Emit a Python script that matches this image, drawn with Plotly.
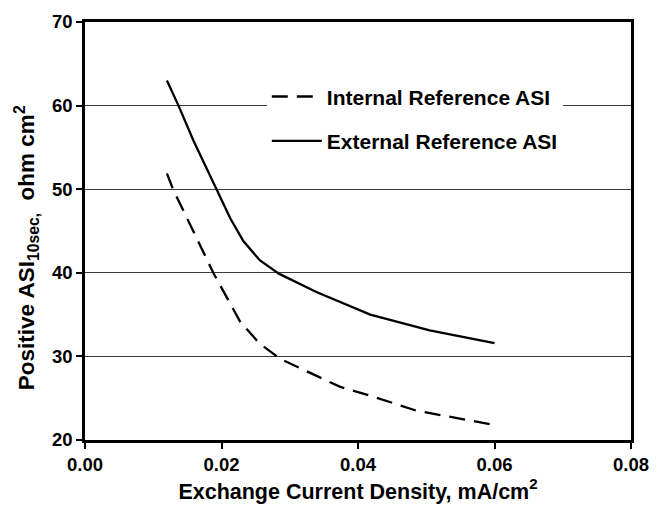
import plotly.graph_objects as go

# Data
ext_x = [0.0120, 0.0137, 0.0159, 0.0193, 0.0213, 0.0232, 0.0256, 0.0284, 0.0339, 0.0418, 0.0505, 0.0600]
ext_y = [63.0, 60.0, 55.8, 50.0, 46.5, 43.8, 41.5, 39.9, 37.7, 35.0, 33.1, 31.6]

int_x = [0.0120, 0.0129, 0.0155, 0.0188, 0.0227, 0.0255, 0.0286, 0.0374, 0.0418, 0.0486, 0.0600]
int_y = [51.9, 50.0, 45.6, 40.0, 34.2, 31.6, 29.7, 26.35, 25.3, 23.5, 21.8]

x_ticks = [0.00, 0.02, 0.04, 0.06, 0.08]
x_ticklabels = ["0.00", "0.02", "0.04", "0.06", "0.08"]
y_ticks = [20, 30, 40, 50, 60, 70]

FONT = "Liberation Sans, Arial, sans-serif"

fig = go.Figure()
fig.add_trace(go.Scatter(
    x=int_x, y=int_y, mode="lines", name="Internal Reference ASI",
    legendgroup="a",
    line=dict(color="black", width=2.3, dash="16px,9px"),
))
fig.add_trace(go.Scatter(
    x=ext_x, y=ext_y, mode="lines", name="External Reference ASI",
    legendgroup="b",
    line=dict(color="black", width=2.3),
))

axis_common = dict(
    showline=True, linecolor="black", linewidth=2.5, mirror=True,
    ticks="outside", ticklen=6, tickwidth=2, tickcolor="black",
    tickfont=dict(family=FONT, size=18.5, color="black", weight="bold"),
    zeroline=False,
)

fig.update_xaxes(
    range=[0, 0.08], tickvals=x_ticks, ticktext=x_ticklabels,
    showgrid=False,
    title=dict(text="Exchange Current Density, mA/cm<sup>2</sup>",
               font=dict(family=FONT, size=21.5, color="black", weight="bold"),
               standoff=10),
    **axis_common,
)
fig.update_yaxes(
    range=[20, 70], tickvals=y_ticks,
    showgrid=True, gridcolor="#3a3a3a", gridwidth=1.2,
    **axis_common,
)

fig.add_annotation(
    text="Positive ASI<sub>10sec,</sub>  ohm cm<sup>2</sup>",
    xref="paper", yref="paper", x=-0.107, y=0.46,
    xanchor="center", yanchor="middle", textangle=-90, showarrow=False,
    font=dict(family=FONT, size=22.5, color="black", weight="bold"),
)

fig.update_layout(
    width=667, height=511,
    margin=dict(l=85, r=36, t=11, b=68),
    paper_bgcolor="white", plot_bgcolor="white",
    showlegend=True,
    legend=dict(
        x=0.333, y=0.87, xanchor="left", yanchor="top",
        bgcolor="white", borderwidth=0,
        font=dict(family=FONT, size=21, color="black", weight="bold"),
        itemwidth=50, tracegroupgap=14, traceorder="grouped",
    ),
)

fig.write_html("out.html")
